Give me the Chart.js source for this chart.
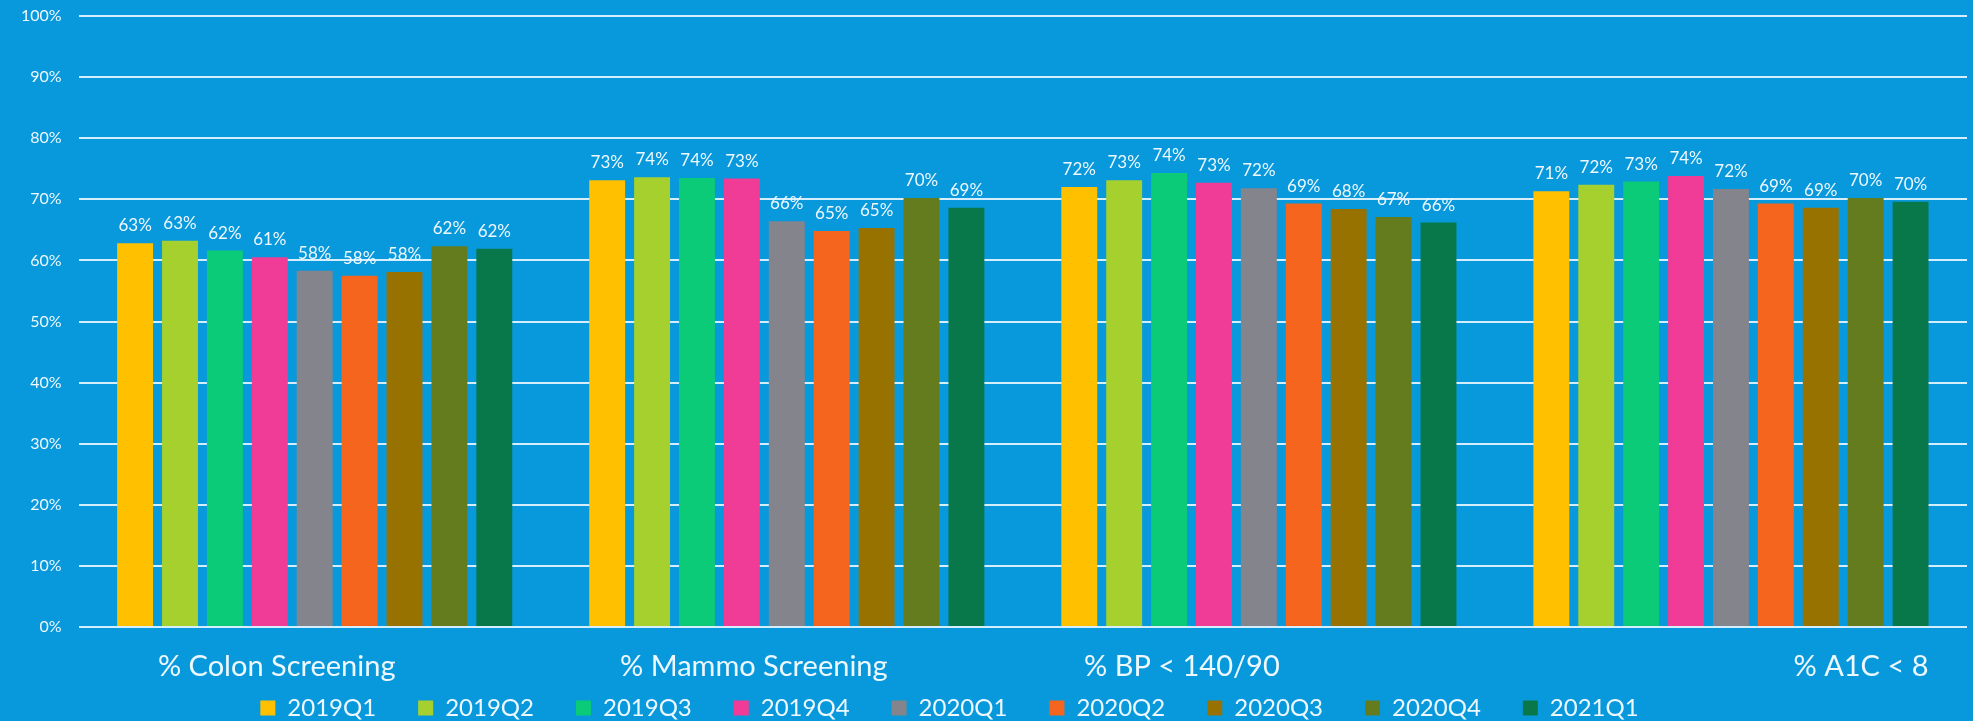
<!DOCTYPE html>
<html>
<head>
<meta charset="utf-8">
<script src="https://cdn.jsdelivr.net/npm/chart.js@4/dist/chart.umd.min.js"></script>
<style>
  html, body { margin: 0; padding: 0; background: #0899DC; }
  #wrap { width: 1973px; height: 721px; }
</style>
</head>
<body>
<div id="wrap"><canvas id="qualityChart" width="1973" height="721"></canvas></div>
<script>
// categories and quarters
const measures = ["% Colon Screening", "% Mammo Screening", "% BP < 140/90", "% A1C < 8"];
const quarters = ["2019Q1", "2019Q2", "2019Q3", "2019Q4", "2020Q1", "2020Q2", "2020Q3", "2020Q4", "2021Q1"];

// one array per quarter: colon, mammo, bp, a1c (percent)
const q2019Q1 = [62.8, 73.1, 72.0, 71.3];
const q2019Q2 = [63.2, 73.6, 73.1, 72.4];
const q2019Q3 = [61.6, 73.5, 74.3, 72.9];
const q2019Q4 = [60.5, 73.4, 72.7, 73.8];
const q2020Q1 = [58.3, 66.4, 71.8, 71.7];
const q2020Q2 = [57.5, 64.8, 69.3, 69.3];
const q2020Q3 = [58.1, 65.3, 68.4, 68.6];
const q2020Q4 = [62.3, 70.2, 67.1, 70.2];
const q2021Q1 = [61.9, 68.6, 66.2, 69.6];

const yTicks = [0, 10, 20, 30, 40, 50, 60, 70, 80, 90, 100];

const seriesValues = [q2019Q1, q2019Q2, q2019Q3, q2019Q4, q2020Q1, q2020Q2, q2020Q3, q2020Q4, q2021Q1];
const seriesColors = ["#FFC000", "#A6D02D", "#0BCB78", "#F03C96", "#84848C", "#F5651E", "#977200", "#647C1E", "#08784A"];

// the category captions in the picture sit off-centre; shift in px
const captionShift = [-38, -33, -77, 130];

const FONT = "Lato, 'Open Sans', sans-serif";
const TXT = "#EEF8FF";

// value labels above bars
const barLabels = {
  id: "barLabels",
  afterDatasetsDraw(chart) {
    const ctx = chart.ctx;
    ctx.save();
    ctx.font = "17px " + FONT;
    ctx.fillStyle = TXT;
    ctx.textAlign = "center";
    ctx.textBaseline = "bottom";
    chart.data.datasets.forEach((ds, i) => {
      chart.getDatasetMeta(i).data.forEach((bar, j) => {
        ctx.fillText(Math.round(ds.data[j]) + "%", bar.x, bar.y - 9);
      });
    });
    ctx.restore();
  }
};

// category captions under the axis
const captions = {
  id: "captions",
  afterDraw(chart) {
    const ctx = chart.ctx;
    const xs = chart.scales.x;
    ctx.save();
    ctx.font = "29px " + FONT;
    ctx.fillStyle = TXT;
    ctx.textAlign = "center";
    ctx.textBaseline = "middle";
    measures.forEach((m, i) => {
      ctx.fillText(m, xs.getPixelForValue(i) + captionShift[i], chart.chartArea.bottom + 40);
    });
    ctx.restore();
  }
};

new Chart(document.getElementById("qualityChart"), {
  type: "bar",
  data: {
    labels: measures,
    datasets: quarters.map((q, i) => ({
      label: q,
      data: seriesValues[i],
      backgroundColor: seriesColors[i],
      borderWidth: 0,
      categoryPercentage: 0.856,
      barPercentage: 0.8
    }))
  },
  options: {
    responsive: false,
    animation: false,
    layout: { padding: { top: 16, right: 6, left: 4, bottom: -9 } },
    plugins: {
      legend: {
        position: "bottom",
        labels: {
          color: TXT,
          font: { family: FONT, size: 24 },
          boxWidth: 15,
          boxHeight: 15,
          padding: 3,
          generateLabels(chart) {
            const items = Chart.defaults.plugins.legend.labels.generateLabels(chart);
            items.forEach((it, i) => {
              // trailing gap between entries; the last one carries extra so the row sits left of centre like the original
              it.text = it.text + (i === items.length - 1 ? "\u2003\u2003\u2003\u2003" : "\u2003\u2003\u2009");
            });
            return items;
          }
        }
      },
      tooltip: { enabled: false }
    },
    scales: {
      x: {
        grid: { display: false },
        border: { display: false },
        ticks: { display: false },
        afterFit(scale) { scale.height = 66; }
      },
      y: {
        min: 0,
        max: 100,
        afterBuildTicks(axis) { axis.ticks = yTicks.map(v => ({ value: v })); },
        afterFit(scale) { scale.paddingTop = 0; },
        grid: { color: "rgba(230,245,255,0.92)", lineWidth: 2, drawTicks: false },
        border: { display: false },
        ticks: {
          color: TXT,
          font: { family: FONT, size: 16 },
          padding: 17,
          callback: v => v + "%"
        }
      }
    }
  },
  plugins: [barLabels, captions]
});
</script>
</body>
</html>
